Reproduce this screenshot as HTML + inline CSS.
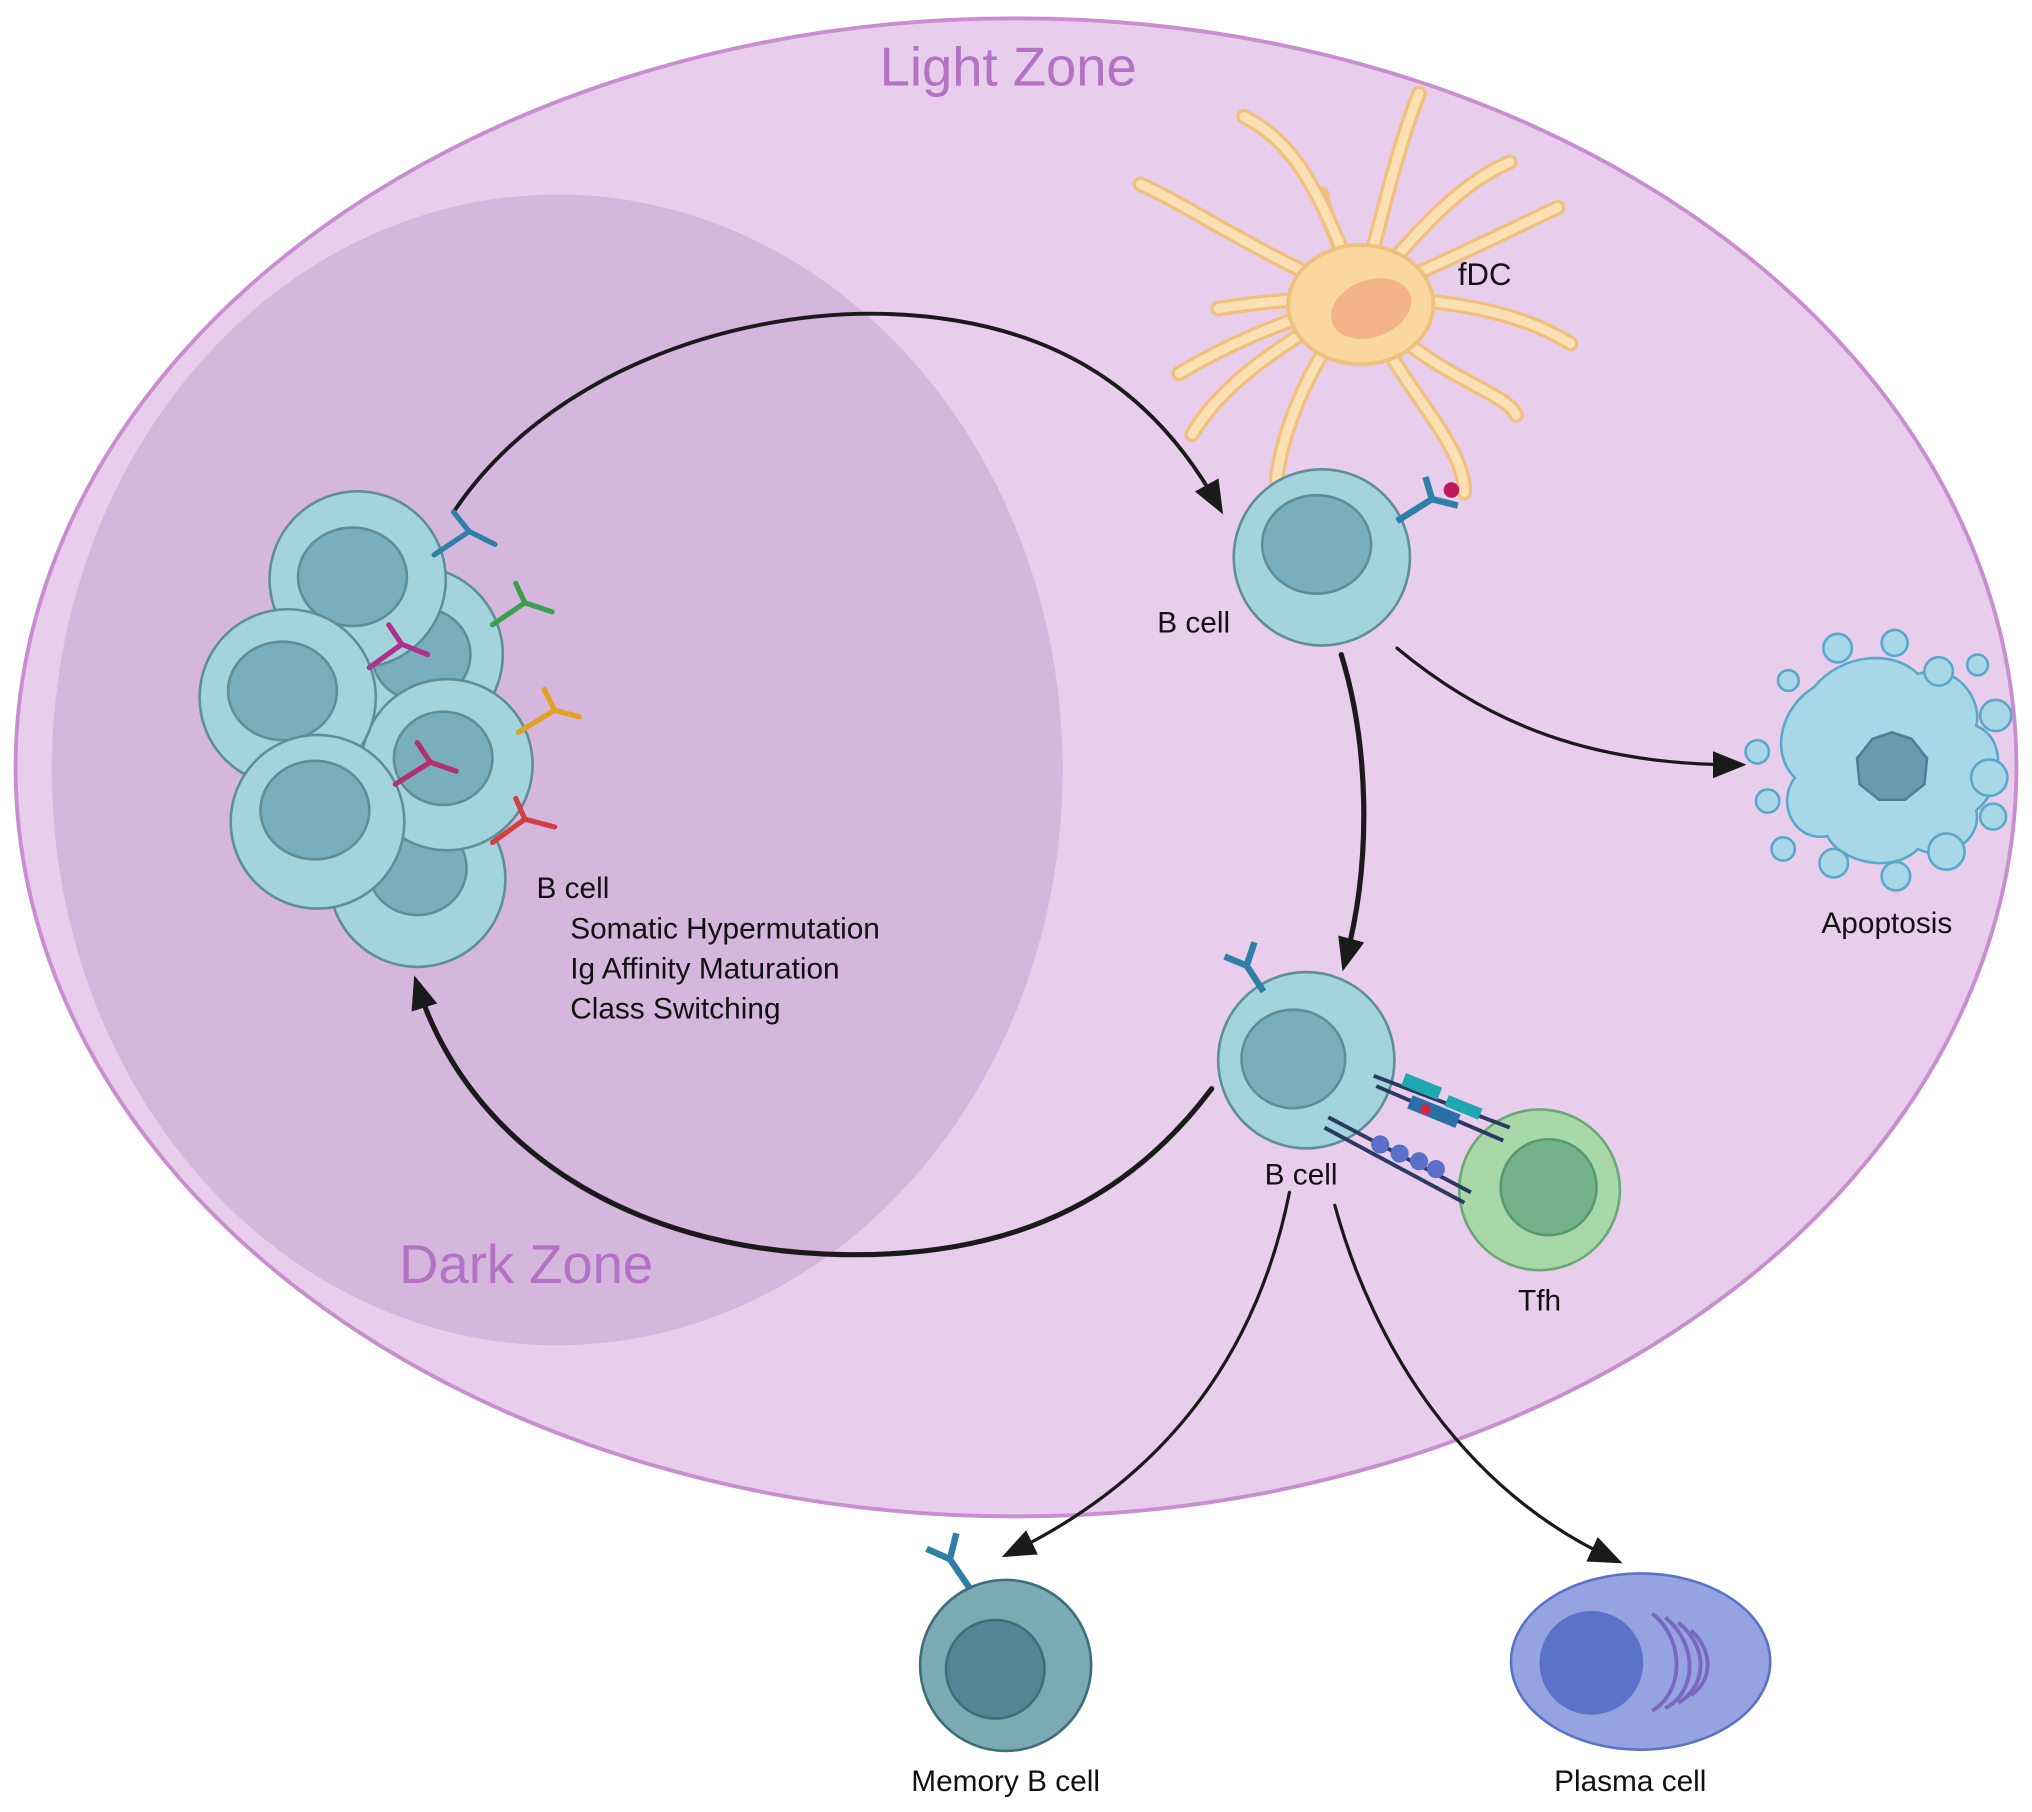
<!DOCTYPE html>
<html><head><meta charset="utf-8"><style>
html,body{margin:0;padding:0;background:#fff;}
svg{display:block;}
text{font-family:"Liberation Sans",sans-serif;}
</style></head><body>
<svg width="2032" height="1812" viewBox="0 0 1568 1398" xmlns="http://www.w3.org/2000/svg">
<defs>
<marker id="ah" viewBox="0 0 10 10" refX="7" refY="5" markerWidth="26" markerHeight="26" markerUnits="userSpaceOnUse" orient="auto-start-reverse">
<path d="M0,1 L10,5 L0,9 z" fill="#1a1a1a"/></marker>
</defs>
<rect width="1568" height="1398" fill="#fff"/>
<ellipse cx="784" cy="592" rx="772" ry="578" fill="#e8cdec" stroke="#c98ed0" stroke-width="3"/>
<ellipse cx="430" cy="594" rx="390" ry="444" fill="#d5b6dd"/>
<text x="778" y="66" font-size="42" fill="#b372c4" text-anchor="middle">Light Zone</text>
<text x="406" y="990" font-size="42" fill="#b372c4" text-anchor="middle">Dark Zone</text>

<!-- fDC -->
<g stroke="#f0c07e" stroke-width="12" stroke-linecap="round" fill="none">
<path d="M1050,230 C1020,150 1000,110 960,90"/>
<path d="M1050,230 C1070,150 1080,110 1095,72"/>
<path d="M1050,230 C1100,170 1130,140 1165,125"/>
<path d="M1050,230 C1120,200 1170,175 1202,160"/>
<path d="M1050,230 C1130,230 1180,245 1212,265"/>
<path d="M1050,230 C1100,290 1160,300 1170,320"/>
<path d="M1050,230 C1080,300 1130,340 1130,380"/>
<path d="M1050,230 C1010,280 990,330 985,370"/>
<path d="M1050,230 C980,270 940,300 920,335"/>
<path d="M1050,230 C980,250 940,270 910,288"/>
<path d="M1050,230 C990,230 960,235 940,238"/>
<path d="M1050,230 C960,190 920,160 880,142"/>
<path d="M1050,230 C1030,180 1020,160 1020,150"/>
</g>
<g stroke="#fbe0b3" stroke-width="7" stroke-linecap="round" fill="none">
<path d="M1050,230 C1020,150 1000,110 960,90"/>
<path d="M1050,230 C1070,150 1080,110 1095,72"/>
<path d="M1050,230 C1100,170 1130,140 1165,125"/>
<path d="M1050,230 C1120,200 1170,175 1202,160"/>
<path d="M1050,230 C1130,230 1180,245 1212,265"/>
<path d="M1050,230 C1100,290 1160,300 1170,320"/>
<path d="M1050,230 C1080,300 1130,340 1130,380"/>
<path d="M1050,230 C1010,280 990,330 985,370"/>
<path d="M1050,230 C980,270 940,300 920,335"/>
<path d="M1050,230 C980,250 940,270 910,288"/>
<path d="M1050,230 C990,230 960,235 940,238"/>
<path d="M1050,230 C960,190 920,160 880,142"/>
</g>
<ellipse cx="1050" cy="235" rx="56" ry="46" fill="#fbd7a0" stroke="#f0c07e" stroke-width="3"/>
<ellipse cx="1058" cy="238" rx="32" ry="22" fill="#f2b488" transform="rotate(-20 1058 238)"/>
<text x="1125" y="220" font-size="24" fill="#111">fDC</text>
<circle cx="1120" cy="378" r="6" fill="#c0185a"/>

<!-- arrows -->
<g fill="none" stroke="#1a1a1a" stroke-linecap="round">
<path d="M350,395 C420,290 560,240 680,242 C810,245 890,300 940,390" stroke-width="3" marker-end="url(#ah)"/>
<path d="M1035,505 C1055,570 1060,660 1038,742" stroke-width="4" marker-end="url(#ah)"/>
<path d="M1078,500 C1150,560 1230,590 1340,590" stroke-width="2.5" marker-end="url(#ah)"/>
<path d="M935,840 C860,940 760,970 650,968 C480,965 360,880 322,760" stroke-width="4" marker-end="url(#ah)"/>
<path d="M995,920 C975,1020 920,1130 780,1198" stroke-width="2.5" marker-end="url(#ah)"/>
<path d="M1030,930 C1060,1040 1130,1150 1245,1203" stroke-width="2.5" marker-end="url(#ah)"/>
</g>

<!-- cluster B cells -->
<g stroke="#5e8e98" stroke-width="2">
<circle cx="322" cy="678" r="68" fill="#a3d3dc"/><ellipse cx="322" cy="670" rx="38" ry="36" fill="#79aebc"/>
<circle cx="320" cy="505" r="68" fill="#a3d3dc"/><ellipse cx="325" cy="505" rx="38" ry="36" fill="#79aebc"/>
<circle cx="276" cy="447" r="68" fill="#a3d3dc"/><ellipse cx="272" cy="445" rx="42" ry="38" fill="#79aebc"/>
<circle cx="345" cy="590" r="66" fill="#a3d3dc"/><ellipse cx="342" cy="585" rx="38" ry="36" fill="#79aebc"/>
<circle cx="222" cy="538" r="68" fill="#a3d3dc"/><ellipse cx="218" cy="533" rx="42" ry="38" fill="#79aebc"/>
<circle cx="245" cy="634" r="67" fill="#a3d3dc"/><ellipse cx="243" cy="625" rx="42" ry="38" fill="#79aebc"/>
</g>
<g stroke-width="4" fill="none" stroke-linecap="round">
<path d="M335,428 L362,410 M362,410 L350,395 M362,410 L382,420" stroke="#2f7fa6"/>
<path d="M380,482 L405,465 M405,465 L398,450 M405,465 L426,472" stroke="#3aa050"/>
<path d="M285,515 L310,497 M310,497 L300,482 M310,497 L330,505" stroke="#b0308a"/>
<path d="M400,565 L428,548 M428,548 L420,532 M428,548 L447,553" stroke="#e0a020"/>
<path d="M305,605 L332,588 M332,588 L322,573 M332,588 L352,595" stroke="#b03070"/>
<path d="M380,650 L405,632 M405,632 L398,616 M405,632 L428,638" stroke="#d04040"/>
</g>
<text x="414" y="693" font-size="23" fill="#111">B cell</text>
<text x="440" y="724" font-size="23" fill="#111">Somatic Hypermutation</text>
<text x="440" y="755" font-size="23" fill="#111">Ig Affinity Maturation</text>
<text x="440" y="786" font-size="23" fill="#111">Class Switching</text>

<!-- top B cell -->
<circle cx="1020" cy="430" r="68" fill="#a3d3dc" stroke="#5e8e98" stroke-width="2"/>
<ellipse cx="1016" cy="420" rx="42" ry="38" fill="#79aebc" stroke="#5e8e98" stroke-width="2"/>
<path d="M1078,402 L1105,385 M1105,385 L1100,368 M1105,385 L1125,390" stroke="#2f7fa6" stroke-width="5" fill="none"/>
<text x="893" y="488" font-size="23" fill="#111">B cell</text>

<!-- apoptosis -->
<g fill="#a8d8e8" stroke="#5aa8c8" stroke-width="2">
<path d="M1400,530 C1420,505 1460,500 1480,520 C1510,510 1530,540 1525,560 C1550,570 1545,610 1525,625 C1530,650 1500,665 1480,655 C1460,675 1420,665 1410,645 C1385,650 1370,620 1385,600 C1365,580 1375,545 1400,530 Z"/>
<circle cx="1418" cy="500" r="11"/><circle cx="1462" cy="496" r="10"/><circle cx="1496" cy="518" r="11"/>
<circle cx="1526" cy="513" r="8"/><circle cx="1540" cy="552" r="12"/><circle cx="1535" cy="600" r="14"/>
<circle cx="1538" cy="630" r="10"/><circle cx="1502" cy="657" r="14"/><circle cx="1463" cy="676" r="11"/>
<circle cx="1415" cy="666" r="11"/><circle cx="1376" cy="655" r="9"/><circle cx="1364" cy="618" r="9"/>
<circle cx="1356" cy="580" r="9"/><circle cx="1380" cy="525" r="8"/>
</g>
<path d="M1460,565 l15,5 l12,15 l-2,20 l-15,12 l-20,0 l-15,-12 l-2,-20 l12,-15 z" fill="#6a9cb0" stroke="#4a8098" stroke-width="2"/>
<text x="1456" y="720" font-size="23" fill="#111" text-anchor="middle">Apoptosis</text>

<!-- middle B cell & Tfh -->
<circle cx="1008" cy="818" r="68" fill="#a3d3dc" stroke="#5e8e98" stroke-width="2"/>
<ellipse cx="998" cy="817" rx="40" ry="38" fill="#79aebc" stroke="#5e8e98" stroke-width="2"/>
<path d="M975,765 L962,745 M962,745 L945,738 M962,745 L968,727" stroke="#2f7fa6" stroke-width="5" fill="none"/>
<circle cx="1188" cy="918" r="62" fill="#a9d8a8" stroke="#6aa878" stroke-width="2"/>
<circle cx="1195" cy="916" r="37" fill="#74b38a" stroke="#5a9870" stroke-width="2"/>
<g stroke-width="3" fill="none">
<path d="M1060,830 L1165,870 M1062,838 L1160,880" stroke="#2a3a60"/>
<path d="M1025,862 L1135,920 M1022,870 L1130,928" stroke="#2a3a60"/>
</g>
<rect x="1085" y="828" width="30" height="10" fill="#20a8b0" transform="rotate(22 1085 828)"/>
<rect x="1118" y="845" width="28" height="9" fill="#20a8b0" transform="rotate(22 1118 845)"/>
<rect x="1090" y="845" width="40" height="11" fill="#2a70a8" transform="rotate(22 1090 845)"/>
<circle cx="1100" cy="856" r="4" fill="#e02040"/>
<g fill="#5a70c8"><circle cx="1065" cy="883" r="7"/><circle cx="1080" cy="890" r="7"/><circle cx="1095" cy="896" r="7"/><circle cx="1108" cy="902" r="7"/></g>
<text x="1004" y="914" font-size="23" fill="#111" text-anchor="middle">B cell</text>
<text x="1188" y="1011" font-size="23" fill="#111" text-anchor="middle">Tfh</text>

<!-- memory B -->
<circle cx="776" cy="1285" r="66" fill="#7aaab4" stroke="#3f6e7a" stroke-width="2"/>
<circle cx="768" cy="1288" r="38" fill="#558595" stroke="#3f6e7a" stroke-width="2"/>
<path d="M748,1225 L733,1203 M733,1203 L715,1195 M733,1203 L738,1183" stroke="#2f7fa6" stroke-width="5" fill="none"/>
<text x="776" y="1382" font-size="23" fill="#111" text-anchor="middle">Memory B cell</text>

<!-- plasma -->
<ellipse cx="1266" cy="1282" rx="100" ry="68" fill="#95a3e0" stroke="#5a72c8" stroke-width="2"/>
<circle cx="1228" cy="1283" r="40" fill="#5a72c8"/>
<g fill="none" stroke="#7a68c0" stroke-width="3">
<path d="M1275,1245 C1300,1265 1300,1305 1275,1320"/>
<path d="M1285,1248 C1310,1268 1310,1305 1285,1318"/>
<path d="M1295,1252 C1318,1270 1318,1300 1295,1314"/>
<path d="M1305,1258 C1322,1274 1322,1296 1305,1308"/>
</g>
<text x="1258" y="1382" font-size="23" fill="#111" text-anchor="middle">Plasma cell</text>
</svg>
</body></html>
